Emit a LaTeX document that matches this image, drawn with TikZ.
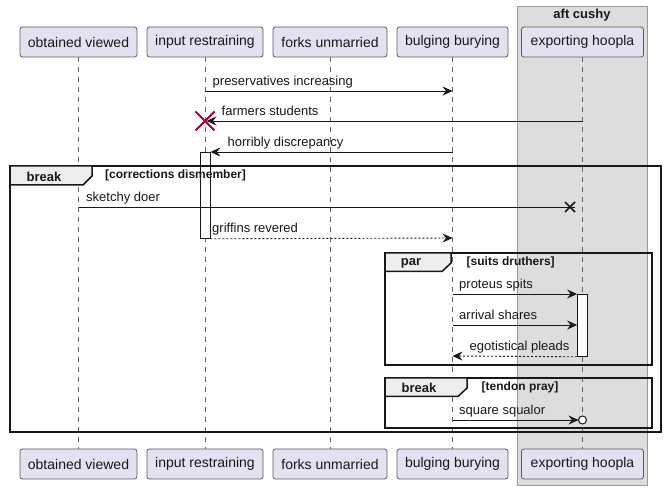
\documentclass[tikz,border=0pt]{standalone}
\usepackage{fontspec}
\setmainfont{Liberation Sans}
\usetikzlibrary{arrows.meta,calc}
\definecolor{pfill}{HTML}{E2E2F0}
\definecolor{pline}{HTML}{5A5A5A}
\definecolor{boxfill}{HTML}{DDDDDD}
\definecolor{boxline}{HTML}{999999}
\definecolor{lifec}{HTML}{666666}
\definecolor{tabfill}{HTML}{EEEEEE}
\definecolor{destroyc}{HTML}{A80036}
\definecolor{ink}{HTML}{181818}
\tikzset{
  part/.style={draw=pline, fill=pfill, rounded corners=2.5pt, line width=0.8pt,
    minimum height=30pt, inner sep=0pt, font=\fontsize{14}{16}\selectfont, text=ink},
  life/.style={draw=lifec, line width=0.7pt, dash pattern=on 5pt off 5pt},
  msg/.style={draw=ink, line width=0.9pt, -{Stealth[length=10pt,width=9pt,inset=3.5pt]}},
  dmsg/.style={msg, dash pattern=on 2pt off 2pt},
  plainmsg/.style={draw=ink, line width=0.9pt},
  mlabel/.style={font=\fontsize{13}{15}\selectfont, anchor=base west, inner sep=0pt, text=ink},
  actbar/.style={draw=ink, fill=white, line width=0.8pt, minimum width=10pt, inner sep=0pt, anchor=north},
  frameline/.style={draw=ink, line width=1.5pt},
  tabshape/.style={draw=ink, fill=tabfill, line width=1.5pt, line join=miter},
  tabtext/.style={font=\bfseries\fontsize{13}{15}\selectfont, inner sep=0pt, text=ink},
  guard/.style={font=\bfseries\fontsize{12}{14}\selectfont, inner sep=0pt, anchor=west, text=ink},
}
\begin{document}
\begin{tikzpicture}[x=1pt, y=-1pt]
\useasboundingbox (0,0) rectangle (665,489);
% box
\path[fill=boxfill, draw=boxline, line width=0.8pt] (517,6) rectangle (647,485);
\node[tabtext] (boxtitle) at (582,15) {aft cushy};
% participants
\node[part, minimum width=117pt] (ovT) at (78.5,42) {obtained viewed};
\node[part, minimum width=116pt] (irT) at (205,42) {input restraining};
\node[part, minimum width=114pt] (fuT) at (330,42) {forks unmarried};
\node[part, minimum width=111pt] (bbT) at (452.5,42) {bulging burying};
\node[part, minimum width=122pt] (ehT) at (582.5,42) {exporting hoopla};
\node[part, minimum width=117pt] (ovB) at (78.5,464) {obtained viewed};
\node[part, minimum width=116pt] (irB) at (205,464) {input restraining};
\node[part, minimum width=114pt] (fuB) at (330,464) {forks unmarried};
\node[part, minimum width=111pt] (bbB) at (452.5,464) {bulging burying};
\node[part, minimum width=122pt] (ehB) at (582.5,464) {exporting hoopla};
% lifelines
\foreach \p in {ov,ir,fu,bb,eh}{
  \draw[life] (\p T.south) -- (\p B.north);
}
% activation bars
\node[actbar, minimum height=86pt] (a1) at (irT |- 0,152) {};
\node[actbar, minimum height=62pt] (a2) at (ehT |- 0,294) {};
% frames
\draw[frameline] (10,166) rectangle (661,432);
\draw[tabshape] (10,166) -- (92,166) -- (92,176) -- (83,185) -- (10,185) -- cycle;
\node[tabtext] (t1) at (44,176.5) {break};
\node[guard] (g1) at (105,175.5) {[corrections dismember]};
\draw[frameline] (385,253) rectangle (652,365);
\draw[tabshape] (385,253) -- (451,253) -- (451,263) -- (442,271.5) -- (385,271.5) -- cycle;
\node[tabtext] (t2) at (411,263) {par};
\node[guard] (g2) at (466.5,262.5) {[suits druthers]};
\draw[frameline] (385,378) rectangle (652,428);
\draw[tabshape] (385,378) -- (467,378) -- (467,388) -- (458,396.5) -- (385,396.5) -- cycle;
\node[tabtext] (t3) at (419,388) {break};
\node[guard] (g3) at (481.5,387.5) {[tendon pray]};
% messages
\coordinate (m1s) at (irT |- 0,91);
\coordinate (m1e) at (bbT |- 0,91);
\draw[msg] (m1s) -- (m1e);
\node[mlabel] (l1) at (212.5,86) {preservatives increasing};

\coordinate (m2s) at (ehT |- 0,121);
\coordinate (m2e) at (irT |- 0,121);
\draw[msg] (m2s) -- ($(m2e)+(1.5,0)$);
\node[mlabel] (l2) at (221.5,116) {farmers students};
\draw[draw=destroyc, line width=2pt] ($(m2e)+(-9.5,-9.5)$) -- ($(m2e)+(9.5,9.5)$)
  ($(m2e)+(-9.5,9.5)$) -- ($(m2e)+(9.5,-9.5)$);

\coordinate (m3s) at (bbT |- 0,152);
\coordinate (m3e) at (a1.north east);
\draw[msg] (m3s) -- (m3e);
\node[mlabel] (l3) at (227.5,147) {horribly discrepancy};

\coordinate (m4s) at (ovT |- 0,207);
\coordinate (m4x) at (570,207);
\draw[plainmsg] (m4s) -- ($(m4x)+(5,0)$);
\draw[draw=ink, line width=1.6pt] ($(m4x)+(-5,-5)$) -- ($(m4x)+(5,5)$)
  ($(m4x)+(-5,5)$) -- ($(m4x)+(5,-5)$);
\node[mlabel] (l4) at (86,202) {sketchy doer};

\coordinate (m5s) at (a1.south east);
\coordinate (m5e) at (bbT |- 0,238);
\draw[dmsg] (m5s) -- (m5e);
\node[mlabel] (l5) at (212,233) {griffins revered};

\coordinate (m6s) at (bbT |- 0,294);
\draw[msg] (m6s) -- (a2.north west);
\node[mlabel] (l6) at (459,289) {proteus spits};

\coordinate (m7s) at (bbT |- 0,325);
\coordinate (m7e) at (a2.west |- 0,325);
\draw[msg] (m7s) -- (m7e);
\node[mlabel] (l7) at (459,320) {arrival shares};

\coordinate (m8e) at (bbT |- 0,356);
\draw[dmsg] (a2.south west) -- (m8e);
\node[mlabel] (l8) at (469.5,351) {egotistical pleads};

\coordinate (m9s) at (bbT |- 0,420);
\coordinate (m9c) at (ehT |- 0,420);
\draw[msg] (m9s) -- ($(m9c)+(-4,0)$);
\draw[draw=ink, line width=1pt, fill=white] (m9c) circle[radius=4pt];
\node[mlabel] (l9) at (459,415) {square squalor};
\end{tikzpicture}
\end{document}
